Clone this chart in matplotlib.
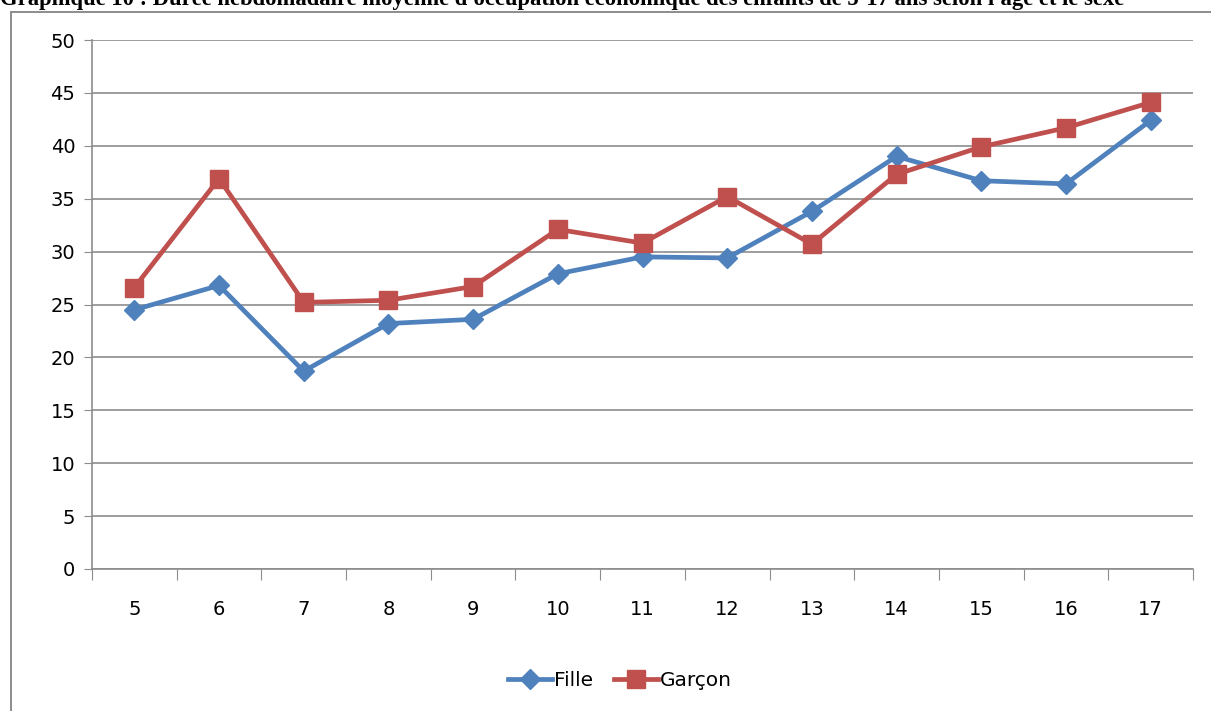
import matplotlib.pyplot as plt
from matplotlib.patches import Rectangle

ages = ['5', '6', '7', '8', '9', '10', '11', '12', '13', '14', '15', '16', '17']
fille = [24.5, 26.8, 18.7, 23.2, 23.6, 27.9, 29.5, 29.4, 33.8, 39.0, 36.7, 36.4, 42.4]
garcon = [26.6, 36.9, 25.2, 25.4, 26.7, 32.1, 30.8, 35.2, 30.7, 37.3, 39.9, 41.7, 44.1]
yticks = [0, 5, 10, 15, 20, 25, 30, 35, 40, 45, 50]

title = ("Graphique 10 : Durée hebdomadaire moyenne d'occupation économique "
         "des enfants de 5-17 ans selon l'âge et le sexe")

fig = plt.figure(figsize=(12.11, 7.11), dpi=100)
ax = fig.add_axes([92/1211, 1 - 569/711, (1193 - 92)/1211, (569 - 40)/711])

# chart area border (cut by the image edges)
fig.patches.append(Rectangle((11/1211, -0.1), 1.2, 1 - 12/711 + 0.1,
                             transform=fig.transFigure, fill=False,
                             edgecolor='#8c8c8c', linewidth=1.4))

# title is cut by the top edge of the picture
fig.text(0.0, 1 - 5/711, title, fontfamily='Liberation Serif',
         fontweight='bold', fontsize=16.3, va='baseline', ha='left')

x = list(range(len(ages)))
ax.plot(x, fille, color='#4F81BD', linewidth=3.4, marker='D', markersize=10.5,
        label='Fille', zorder=3)
ax.plot(x, garcon, color='#C0504D', linewidth=3.4, marker='s', markersize=13.5,
        label='Garçon', zorder=3)

ax.set_xlim(-0.5, len(ages) - 0.5)
ax.set_ylim(0, 50)
ax.set_yticks(yticks)
ax.set_xticks([i - 0.5 for i in range(len(ages) + 1)])
ax.set_xticklabels([])
ax.set_xticks(x, minor=True)
ax.set_xticklabels(ages, minor=True)
ax.tick_params(axis='x', which='major', length=8, color='#8c8c8c', direction='out')
ax.tick_params(axis='x', which='minor', length=0, pad=22, labelsize=14)
ax.tick_params(axis='y', length=6, color='#8c8c8c', labelsize=14, pad=6)

ax.grid(axis='y', color='#8c8c8c', linewidth=1.2)
ax.set_axisbelow(True)
for s in ['top', 'right']:
    ax.spines[s].set_visible(False)
for s in ['left', 'bottom']:
    ax.spines[s].set_color('#8c8c8c')
    ax.spines[s].set_linewidth(1.2)

fig.legend(loc='center', bbox_to_anchor=(620/1211, 1 - 681/711), ncol=2,
           frameon=False, fontsize=14.5, handlelength=2.2, handletextpad=0.1,
           columnspacing=1.0)

fig.savefig('out.png', dpi=100)
